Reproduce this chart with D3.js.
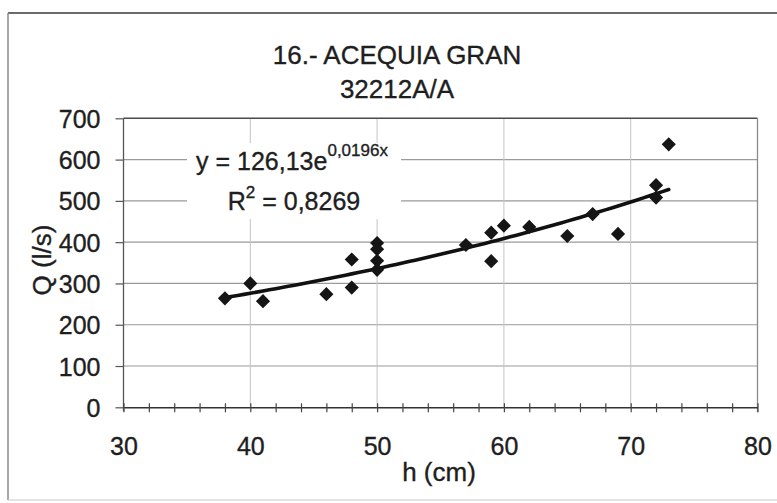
<!DOCTYPE html>
<html>
<head>
<meta charset="utf-8">
<script src="https://cdn.jsdelivr.net/npm/d3@7"></script>
<style>
  html, body { margin: 0; padding: 0; background: #fff; }
  svg { display: block; font-family: "Liberation Sans", Arial, sans-serif; }
  svg text { stroke: #1e1e1e; stroke-width: 0.35px; }
</style>
</head>
<body>
<svg id="chart" width="777" height="503"></svg>
<script>
// ---- data ----
const titleLines = ["16.- ACEQUIA GRAN", "32212A/A"];
const hValues = [38, 40, 41, 46, 48, 48, 50, 50, 50, 50, 57, 59, 59, 60, 62, 65, 67, 69, 72, 72, 73];
const qValues = [264, 300, 257, 274, 358, 290, 398, 383, 355, 333, 393, 423, 354, 440, 437, 415, 468, 420, 538, 508, 637];
const xTickLabels = [30, 40, 50, 60, 70, 80];
const xMinorTicks = d3.range(30, 81, 2);
const yTickLabels = [0, 100, 200, 300, 400, 500, 600, 700];
const fitA = 126.13;
const fitB = 0.0196;
const eqText = ["y = 126,13e", "0,0196x"];
const r2Text = ["R", "2", " = 0,8269"];
const xTitle = "h (cm)";
const yTitle = "Q (l/s)";

const points = hValues.map((h, i) => ({ h, q: qValues[i] }));

const svg = d3.select("#chart");
const ink = "#1e1e1e";

// outer chart frame
svg.append("line").attr("x1", 8).attr("x2", 790).attr("y1", 13).attr("y2", 13)
  .attr("stroke", "#6a6a6a").attr("stroke-width", 2);
svg.append("line").attr("x1", 8).attr("x2", 8).attr("y1", 13).attr("y2", 500)
  .attr("stroke", "#8a8a8a").attr("stroke-width", 1.5);
svg.append("line").attr("x1", 8).attr("x2", 790).attr("y1", 500).attr("y2", 500)
  .attr("stroke", "#c8c8c8").attr("stroke-width", 1);

// scales
const x = d3.scaleLinear().domain([30, 80]).range([123.5, 757.5]);
const y = d3.scaleLinear().domain([0, 700]).range([407.3, 118.3]);

// gridlines
const g = svg.append("g");
g.selectAll("line.hg").data(yTickLabels.filter(v => v > 0 && v < 700)).join("line")
  .attr("class", "hg")
  .attr("x1", x(30)).attr("x2", x(80))
  .attr("y1", d => y(d)).attr("y2", d => y(d))
  .attr("stroke", "#9a9a9a").attr("stroke-width", 1.2);
g.selectAll("line.vg").data(xTickLabels.filter(v => v > 30 && v < 80)).join("line")
  .attr("class", "vg")
  .attr("x1", d => x(d)).attr("x2", d => x(d))
  .attr("y1", y(700)).attr("y2", y(0))
  .attr("stroke", "#c4c4c4").attr("stroke-width", 1);

// plot frame: top dark, right grey
svg.append("line").attr("x1", x(30)).attr("x2", x(80)).attr("y1", y(700)).attr("y2", y(700))
  .attr("stroke", "#4a4a4a").attr("stroke-width", 1.5);
svg.append("line").attr("x1", x(80)).attr("x2", x(80)).attr("y1", y(700)).attr("y2", y(0) + 5)
  .attr("stroke", "#8a8a8a").attr("stroke-width", 1.3);

// equation label background (covers gridlines)
svg.append("rect").attr("x", 187).attr("y", 143).attr("width", 214).attr("height", 76)
  .attr("fill", "#fff");

// y axis
const yAxis = svg.append("g").attr("transform", `translate(${x(30)},0)`)
  .call(d3.axisLeft(y).tickValues(yTickLabels).tickSize(8).tickPadding(15).tickSizeOuter(0));
yAxis.select(".domain").attr("stroke", "#555").attr("stroke-width", 1.3)
  .attr("d", `M0,${y(700)}V${y(0) + 4}`);
yAxis.selectAll(".tick line").attr("stroke", "#555").attr("stroke-width", 1.2);
yAxis.selectAll(".tick text").attr("fill", ink).style("font-size", "25px").attr("dy", "0.36em");

// x axis minor crossing ticks
const xMinor = svg.append("g").attr("transform", `translate(0,${y(0)})`)
  .call(d3.axisBottom(x).tickValues(xMinorTicks).tickSize(5).tickFormat("").tickSizeOuter(0));
xMinor.select(".domain").attr("stroke", "#333").attr("stroke-width", 1.6);
xMinor.selectAll(".tick line").attr("y1", -4).attr("y2", 5).attr("stroke", "#444").attr("stroke-width", 1.2);

// x axis labels
const xLab = svg.append("g").attr("transform", `translate(0,${y(0)})`)
  .call(d3.axisBottom(x).tickValues(xTickLabels).tickSize(0).tickPadding(30));
xLab.select(".domain").remove();
xLab.selectAll(".tick text").attr("fill", ink).style("font-size", "25px");

// trendline from fitted exponential
const hExtent = d3.extent(hValues);
const fitPts = d3.range(hExtent[0], hExtent[1] + 0.001, 0.5).map(h => ({ h, q: fitA * Math.exp(fitB * h) }));
svg.append("path").datum(fitPts)
  .attr("fill", "none").attr("stroke", "#111").attr("stroke-width", 3.6)
  .attr("stroke-linecap", "round")
  .attr("d", d3.line().x(d => x(d.h)).y(d => y(d.q)));

// markers (diamonds)
const sym = d3.symbol().type(d3.symbolSquare).size(100);
svg.append("g").selectAll("path").data(points).join("path")
  .attr("d", sym)
  .attr("transform", d => `translate(${x(d.h)},${y(d.q)}) rotate(45)`)
  .attr("fill", "#151515");

// title
svg.append("text").attr("x", 397).attr("y", 64).attr("text-anchor", "middle")
  .attr("fill", ink).style("font-size", "26px").text(titleLines[0]);
svg.append("text").attr("x", 397).attr("y", 98).attr("text-anchor", "middle")
  .attr("fill", ink).style("font-size", "26px").text(titleLines[1]);

// equation
const eq = svg.append("text").attr("x", 292).attr("y", 170).attr("text-anchor", "middle")
  .attr("fill", ink).style("font-size", "25px");
eq.append("tspan").text(eqText[0]);
eq.append("tspan").attr("dy", -14).style("font-size", "17px").text(eqText[1]);

const r2 = svg.append("text").attr("x", 294).attr("y", 210).attr("text-anchor", "middle")
  .attr("fill", ink).style("font-size", "25px");
r2.append("tspan").text(r2Text[0]);
r2.append("tspan").attr("dy", -12).style("font-size", "17px").text(r2Text[1]);
r2.append("tspan").attr("dy", 12).text(r2Text[2]);

// axis titles
svg.append("text").attr("x", 439).attr("y", 481).attr("text-anchor", "middle")
  .attr("fill", ink).style("font-size", "26px").text(xTitle);
svg.append("text").attr("transform", "translate(51,260) rotate(-90)").attr("text-anchor", "middle")
  .attr("fill", ink).style("font-size", "26px").text(yTitle);
</script>
</body>
</html>
